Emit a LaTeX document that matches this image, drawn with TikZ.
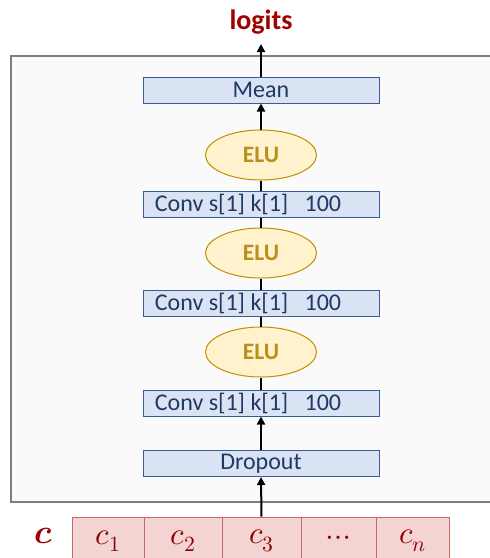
\documentclass[tikz,border=0pt]{standalone}
\usepackage{fontspec}
\usepackage{unicode-math}
\setmainfont{Carlito}
\setmathfont{Latin Modern Math}
\usetikzlibrary{shapes.geometric,arrows.meta}
\definecolor{layerfill}{HTML}{DAE3F3}
\definecolor{layerdraw}{HTML}{3A5A9A}
\definecolor{layertext}{HTML}{203864}
\definecolor{actfill}{HTML}{FFF2CC}
\definecolor{actdraw}{HTML}{BF9000}
\definecolor{acttext}{HTML}{B8901C}
\definecolor{cellfill}{HTML}{F4D3D3}
\definecolor{celldraw}{HTML}{C96767}
\definecolor{celltext}{HTML}{8B0000}
\definecolor{outred}{HTML}{A00000}
\definecolor{framefill}{HTML}{FAFAFA}
\definecolor{framedraw}{HTML}{7F7F7F}
% label of the convolution layers, set slightly left of the box centre
\newcommand{\convlabel}{Conv s[1] k[1]\ \ \ 100\rule{26pt}{0pt}}
\tikzset{
  layer/.style={draw=layerdraw, fill=layerfill, line width=1pt, minimum width=236pt,
    minimum height=26pt, inner sep=0pt, text=layertext, font=\fontsize{24}{28}\selectfont},
  act/.style={ellipse, draw=actdraw, fill=actfill, line width=1pt, minimum width=111pt,
    minimum height=50pt, inner sep=0pt, text=acttext, font=\bfseries\fontsize{23.5}{28}\selectfont},
  cell/.style={draw=celldraw, fill=cellfill, line width=1pt, minimum height=48pt,
    inner sep=0pt, text=celltext, font=\fontsize{31}{36}\selectfont},
  flow/.style={-{Triangle[length=8pt,width=8pt]}, line width=2pt, black},
  link/.style={line width=2pt, black},
}
\begin{document}
\begin{tikzpicture}[x=1pt, y=-1pt]
\useasboundingbox (0,0) rectangle (490,558);
\begin{scope}
\clip (0,0) rectangle (490,558);
% outer block
\draw[framedraw, fill=framefill, line width=1.2pt] (11,56) rectangle (510,502);
% input cells
\node[cell, minimum width=72pt] (c1) at (108,541) {$c_1$};
\node[cell, minimum width=78pt] (c2) at (183,541) {$c_2$};
\node[cell, minimum width=79pt] (c3) at (261.5,541) {$c_3$};
\node[cell, minimum width=75pt] (c4) at (338.5,541) {$\cdots$};
\node[cell, minimum width=73pt] (c5) at (412.5,541) {$c_n$};
\end{scope}
\node[text=outred, font=\fontsize{34}{38}\selectfont] (clab) at (44,536) {$\symbfit{c}$};
% layers
\node[layer] (drop) at (261,463.5) {Dropout};
\node[layer] (conv3) at (261,403) {\convlabel};
\node[act] (elu3) at (261,352) {ELU};
\node[layer] (conv2) at (261,303) {\convlabel};
\node[act] (elu2) at (261,253) {ELU};
\node[layer] (conv1) at (261,204) {\convlabel};
\node[act] (elu1) at (261,155) {ELU};
\node[layer] (mean) at (261,90) {Mean};
\node[text=outred, font=\bfseries\fontsize{28}{32}\selectfont] (logits) at (261,22) {logits};
\coordinate (top) at (261,44);
% connections
\draw[flow] (c3.north) -- (drop.south);
\draw[flow] (drop.north) -- (conv3.south);
\draw[link] (conv3.north) -- (elu3.south);
\draw[link] (elu3.north) -- (conv2.south);
\draw[link] (conv2.north) -- (elu2.south);
\draw[link] (elu2.north) -- (conv1.south);
\draw[link] (conv1.north) -- (elu1.south);
\draw[flow] (elu1.north) -- (mean.south);
\draw[flow] (mean.north) -- (top);
\end{tikzpicture}
\end{document}
